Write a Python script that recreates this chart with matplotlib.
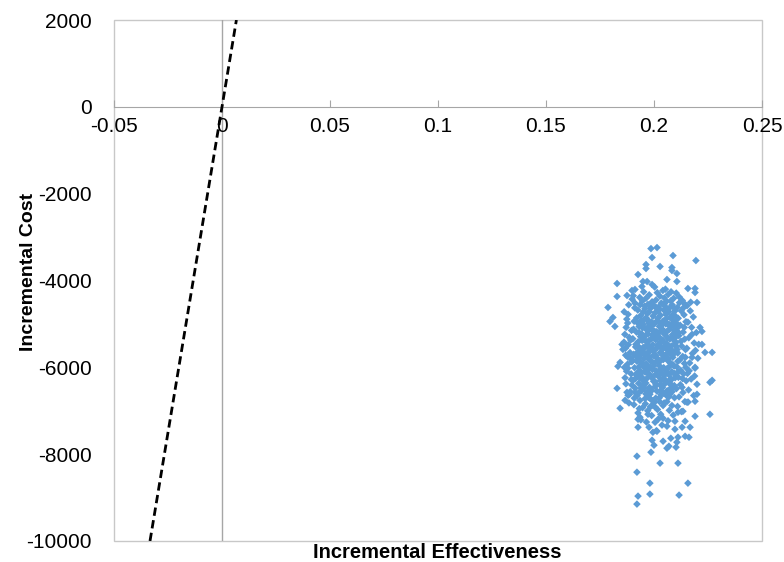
import matplotlib
matplotlib.use('AGG')
import matplotlib.pyplot as plt
from matplotlib.patches import Rectangle

plt.rcParams['font.family'] = ['Liberation Sans', 'DejaVu Sans']

# threshold (willingness to pay) line through origin
wtp = 300000
y_range = [-10000, 2000]

x_ticks = [-0.05, 0, 0.05, 0.1, 0.15, 0.2, 0.25]
x_tick_labels = ['-0.05', '0', '0.05', '0.1', '0.15', '0.2', '0.25']
y_ticks = [-10000, -8000, -6000, -4000, -2000, 0, 2000]

# sparse points around the edge of the cloud, read one by one
edge_pts = [
    (0.1986, -3265), (0.2014, -3241), (0.1991, -3471), (0.2088, -3425), (0.2194, -3540),
    (0.1963, -3632), (0.1963, -3724), (0.2028, -3678), (0.2083, -3701), (0.2083, -3770),
    (0.2106, -3839), (0.1926, -3862), (0.1949, -4023), (0.1968, -4023), (0.2060, -3977),
    (0.2106, -4023), (0.1829, -4069), (0.1991, -4092), (0.2157, -4184), (0.2190, -4184),
    (0.2190, -4276), (0.1898, -4230), (0.1912, -4207), (0.1944, -4138), (0.1829, -4368),
    (0.1875, -4345), (0.2199, -4506), (0.1787, -4621),
    (0.1810, -4851), (0.1796, -4943), (0.1819, -5058), (0.1852, -5472), (0.1856, -5587),
    (0.1843, -5886), (0.1833, -5977), (0.1880, -5771), (0.2236, -5656), (0.2269, -5656),
    (0.2222, -5472), (0.2213, -5081), (0.2222, -5173), (0.2190, -6000), (0.2176, -5771),
    (0.1829, -6483), (0.1843, -6943), (0.1866, -6759), (0.1875, -6575), (0.1880, -6644),
    (0.1912, -6575), (0.1926, -7196), (0.1935, -7150), (0.1926, -7380), (0.1972, -7081),
    (0.2005, -7265), (0.2014, -7472), (0.1995, -7495), (0.2042, -7173), (0.2097, -7242),
    (0.2111, -7035), (0.2134, -7012), (0.2144, -7242), (0.2190, -7127), (0.2153, -6805),
    (0.2190, -6782), (0.2199, -6621), (0.2259, -7081), (0.2259, -6345), (0.2269, -6299),
    (0.2097, -7426), (0.2060, -7357), (0.2130, -7380), (0.2167, -7380),
    (0.1921, -8047), (0.1986, -7955), (0.2000, -7794), (0.1991, -7679), (0.2042, -7702),
    (0.2060, -7863), (0.2069, -7817), (0.2102, -7840), (0.2106, -7725), (0.1921, -8415),
    (0.2028, -8207), (0.2111, -8207), (0.1981, -8668), (0.2157, -8668), (0.1926, -8966),
    (0.1981, -8920), (0.2116, -8943), (0.1921, -9150), (0.2078, -7633), (0.2111, -7610),
    (0.2144, -7587), (0.2162, -7610),
]

# dense core of the cloud, estimated
core_pts = [
    (0.1862, -4720), (0.1871, -5080), (0.1885, -5310), (0.1868, -5560), (0.1893, -5790),
    (0.1879, -6020), (0.1866, -6240), (0.1898, -6410), (0.1883, -4560), (0.1874, -4890),
    (0.1896, -5150), (0.1861, -5420), (0.1889, -5660), (0.1877, -5930), (0.1894, -6150),
    (0.1870, -6380), (0.1887, -6620), (0.1899, -4430), (0.1865, -5240), (0.1881, -5480),
    (0.1897, -5870), (0.1873, -6090), (0.1890, -6560), (0.1884, -6820), (0.1878, -4980),
    (0.1892, -5370), (0.1869, -5720), (0.1895, -6280), (0.1880, -4780), (0.1863, -6000),
    (0.1904, -4350), (0.1912, -4520), (0.1925, -4680), (0.1938, -4810), (0.1946, -4470),
    (0.1908, -4940), (0.1931, -5060), (0.1919, -5190), (0.1943, -5230), (0.1902, -5340),
    (0.1927, -5410), (0.1915, -5530), (0.1940, -5600), (0.1906, -5700), (0.1933, -5780),
    (0.1921, -5860), (0.1948, -5920), (0.1910, -6010), (0.1936, -6080), (0.1917, -6170),
    (0.1944, -6230), (0.1903, -6300), (0.1929, -6370), (0.1913, -6480), (0.1941, -6540),
    (0.1922, -6650), (0.1935, -6760), (0.1907, -6860), (0.1947, -6930), (0.1926, -7050),
    (0.1939, -7210), (0.1911, -4630), (0.1934, -4390), (0.1920, -4860), (0.1949, -5010),
    (0.1905, -5120), (0.1937, -5290), (0.1916, -5470), (0.1945, -5380), (0.1924, -5650),
    (0.1901, -5840), (0.1930, -5990), (0.1942, -6130), (0.1914, -6260), (0.1928, -6590),
    (0.1946, -6420), (0.1909, -6710), (0.1932, -6950), (0.1918, -5750), (0.1950, -5540),
    (0.1952, -4260), (0.1963, -4410), (0.1978, -4330), (0.1991, -4490), (0.1957, -4590),
    (0.1984, -4640), (0.1969, -4760), (0.1996, -4820), (0.1955, -4900), (0.1975, -4980),
    (0.1988, -5040), (0.1961, -5110), (0.1999, -5170), (0.1972, -5230), (0.1953, -5290),
    (0.1985, -5350), (0.1966, -5420), (0.1994, -5480), (0.1958, -5550), (0.1980, -5610),
    (0.1970, -5680), (0.1997, -5730), (0.1954, -5800), (0.1987, -5860), (0.1964, -5920),
    (0.1976, -5990), (0.1993, -6050), (0.1959, -6110), (0.1982, -6180), (0.1968, -6250),
    (0.1998, -6320), (0.1956, -6390), (0.1979, -6460), (0.1990, -6530), (0.1962, -6610),
    (0.1974, -6690), (0.1995, -6770), (0.1960, -6840), (0.1983, -6910), (0.1971, -7000),
    (0.1989, -7110), (0.1965, -7260), (0.1977, -7380), (0.1951, -4720), (0.1986, -4540),
    (0.1973, -5070), (0.1992, -5260), (0.1967, -5500), (0.1981, -5770), (0.1957, -6010),
    (0.1996, -6210), (0.1970, -6560), (0.1984, -6730), (0.1963, -4860), (0.1977, -5380),
    (0.1999, -5900), (0.1955, -6470), (0.1988, -4950), (0.1974, -6140), (0.1992, -6870),
    (0.2003, -4150), (0.2015, -4280), (0.2027, -4360), (0.2041, -4230), (0.2009, -4450),
    (0.2034, -4520), (0.2021, -4610), (0.2046, -4680), (0.2006, -4740), (0.2030, -4800),
    (0.2018, -4870), (0.2043, -4930), (0.2002, -5000), (0.2025, -5060), (0.2038, -5120),
    (0.2012, -5180), (0.2049, -5240), (0.2023, -5300), (0.2007, -5360), (0.2035, -5420),
    (0.2017, -5480), (0.2045, -5540), (0.2004, -5600), (0.2029, -5660), (0.2040, -5720),
    (0.2013, -5780), (0.2032, -5840), (0.2001, -5900), (0.2024, -5960), (0.2047, -6020),
    (0.2010, -6080), (0.2036, -6140), (0.2019, -6200), (0.2044, -6260), (0.2005, -6330),
    (0.2028, -6400), (0.2039, -6470), (0.2014, -6550), (0.2033, -6630), (0.2008, -6710),
    (0.2026, -6790), (0.2042, -6880), (0.2016, -6970), (0.2031, -7080), (0.2020, -7190),
    (0.2037, -7330), (0.2011, -7460), (0.2048, -4400), (0.2022, -4950), (0.2001, -5270),
    (0.2040, -5580), (0.2015, -5860), (0.2030, -6300), (0.2045, -6600), (0.2006, -6920),
    (0.2027, -5510), (0.2019, -4700), (0.2043, -5820), (0.2009, -6390), (0.2034, -5150),
    (0.2053, -4200), (0.2066, -4320), (0.2079, -4260), (0.2091, -4410), (0.2058, -4480),
    (0.2084, -4560), (0.2070, -4640), (0.2097, -4700), (0.2055, -4780), (0.2075, -4850),
    (0.2088, -4920), (0.2062, -4990), (0.2099, -5050), (0.2072, -5120), (0.2051, -5190),
    (0.2085, -5250), (0.2064, -5320), (0.2094, -5380), (0.2057, -5450), (0.2080, -5510),
    (0.2068, -5580), (0.2096, -5640), (0.2054, -5710), (0.2087, -5770), (0.2063, -5840),
    (0.2076, -5900), (0.2093, -5970), (0.2059, -6040), (0.2082, -6100), (0.2069, -6170),
    (0.2098, -6240), (0.2056, -6310), (0.2078, -6390), (0.2090, -6460), (0.2061, -6540),
    (0.2074, -6620), (0.2095, -6700), (0.2060, -6790), (0.2083, -6880), (0.2071, -6990),
    (0.2089, -7100), (0.2065, -7230), (0.2052, -4600), (0.2086, -4990), (0.2073, -5350),
    (0.2092, -5690), (0.2067, -6000), (0.2081, -6280), (0.2058, -6650), (0.2096, -6140),
    (0.2077, -4470), (0.2063, -5600), (0.2099, -5310), (0.2084, -6560), (0.2070, -5010),
    (0.2103, -4290), (0.2117, -4380), (0.2131, -4460), (0.2144, -4550), (0.2108, -4620),
    (0.2126, -4700), (0.2139, -4790), (0.2112, -4870), (0.2148, -4950), (0.2121, -5030),
    (0.2105, -5110), (0.2135, -5190), (0.2115, -5270), (0.2142, -5350), (0.2101, -5430),
    (0.2128, -5510), (0.2146, -5590), (0.2110, -5670), (0.2133, -5750), (0.2119, -5830),
    (0.2141, -5910), (0.2106, -5990), (0.2124, -6070), (0.2137, -6150), (0.2113, -6230),
    (0.2149, -6310), (0.2122, -6400), (0.2104, -6490), (0.2134, -6580), (0.2116, -6680),
    (0.2143, -6790), (0.2109, -6900), (0.2127, -7020), (0.2138, -4620), (0.2102, -4980),
    (0.2125, -5400), (0.2145, -5770), (0.2111, -6110), (0.2130, -6460), (0.2118, -4510),
    (0.2140, -5080), (0.2107, -5590), (0.2132, -6260), (0.2147, -6000), (0.2114, -5200),
    (0.2153, -4580), (0.2168, -4700), (0.2182, -4840), (0.2157, -4960), (0.2174, -5080),
    (0.2196, -5200), (0.2161, -5320), (0.2186, -5440), (0.2152, -5560), (0.2178, -5680),
    (0.2203, -5790), (0.2165, -5900), (0.2190, -6020), (0.2155, -6140), (0.2172, -6270),
    (0.2199, -6390), (0.2160, -6520), (0.2184, -6650), (0.2158, -6800), (0.2176, -5240),
    (0.2192, -5610), (0.2163, -6080), (0.2207, -5470), (0.2170, -4500), (0.2188, -6200),
]

# extra points in the most crowded centre
centre_pts = [
    (0.1936, -4560), (0.1958, -4650), (0.1979, -4720), (0.2001, -4580), (0.2024, -4660),
    (0.2047, -4540), (0.2068, -4720), (0.2089, -4610), (0.1925, -4980), (0.1947, -5090),
    (0.1968, -4890), (0.1990, -5120), (0.2012, -4940), (0.2036, -5030), (0.2057, -4880),
    (0.2079, -5060), (0.2101, -4830), (0.1931, -5200), (0.1953, -5350), (0.1975, -5150),
    (0.1997, -5320), (0.2019, -5220), (0.2041, -5370), (0.2063, -5160), (0.2085, -5330),
    (0.2107, -5240), (0.1928, -5520), (0.1950, -5650), (0.1972, -5480), (0.1994, -5620),
    (0.2016, -5540), (0.2038, -5680), (0.2060, -5470), (0.2082, -5600), (0.2104, -5520),
    (0.1934, -5860), (0.1956, -5980), (0.1978, -5820), (0.2000, -5960), (0.2022, -5880),
    (0.2044, -6010), (0.2066, -5800), (0.2088, -5940), (0.2110, -5860), (0.1924, -6120),
    (0.1946, -6290), (0.1968, -6080), (0.1990, -6240), (0.2012, -6150), (0.2034, -6300),
    (0.2056, -6110), (0.2078, -6260), (0.2100, -6180), (0.1940, -6480), (0.1962, -6360),
    (0.1984, -6500), (0.2006, -6440), (0.2028, -6550), (0.2050, -6380), (0.2072, -6510),
    (0.2094, -6420), (0.1959, -6720), (0.1981, -6620), (0.2003, -6800), (0.2025, -6700),
    (0.2047, -6820), (0.2069, -6680), (0.1942, -4920), (0.1964, -5250), (0.1986, -5560),
    (0.2008, -5720), (0.2030, -5410), (0.2052, -5780), (0.2074, -5680), (0.2096, -5470),
    (0.1939, -5710), (0.1961, -5720), (0.1983, -6000), (0.2005, -5180), (0.2027, -6060),
    (0.2049, -6180), (0.2071, -6370), (0.2093, -5150), (0.1933, -6230), (0.2010, -4630),
    (0.2055, -5000), (0.1972, -4550), (0.2085, -4800),
]

pts = edge_pts + core_pts + centre_pts
eff = [p[0] for p in pts]
cost = [p[1] for p in pts]

fig = plt.figure(figsize=(7.84, 5.62), dpi=100)
ax = fig.add_axes([114 / 784, 21 / 562, 648 / 784, 521 / 562])

frame_col = '#C8C8C8'
axis_col = '#A6A6A6'

ax.set_xlim(-0.05, 0.25)
ax.set_ylim(-10000, 2000)

# frame around plot area
ax.add_patch(Rectangle((0, 0), 1, 1, transform=ax.transAxes, fill=False,
                       edgecolor=frame_col, lw=1, clip_on=False, zorder=1))
for s in ['top', 'right', 'left']:
    ax.spines[s].set_visible(False)
ax.spines['bottom'].set_position(('data', 0))
ax.spines['bottom'].set_color(axis_col)
ax.axvline(0, color=axis_col, lw=1, zorder=1)

ax.set_xticks(x_ticks)
ax.set_xticklabels(x_tick_labels)
ax.set_yticks(y_ticks)
ax.set_yticklabels([str(v) for v in y_ticks])
ax.tick_params(axis='x', direction='in', length=5, color=axis_col, labelsize=15, pad=7)
ax.tick_params(axis='y', length=0, labelsize=15, pad=16)

ax.scatter(eff, cost, marker='D', s=15, color='#5B9BD5', edgecolors='none', zorder=3)

line_x = [y_range[0] / wtp, y_range[1] / wtp]
ax.plot(line_x, y_range, color='black', lw=2, ls=(0, (3, 1.6)), zorder=4)

fig.text(437 / 784, 1 - 553 / 562, 'Incremental Effectiveness', ha='center', va='center',
         fontsize=14.5, fontweight='bold')
fig.text(29 / 784, 1 - 272 / 562, 'Incremental Cost', ha='center', va='center',
         rotation=90, fontsize=14, fontweight='bold')

plt.savefig('out.png', dpi=100)
plt.close('all')
